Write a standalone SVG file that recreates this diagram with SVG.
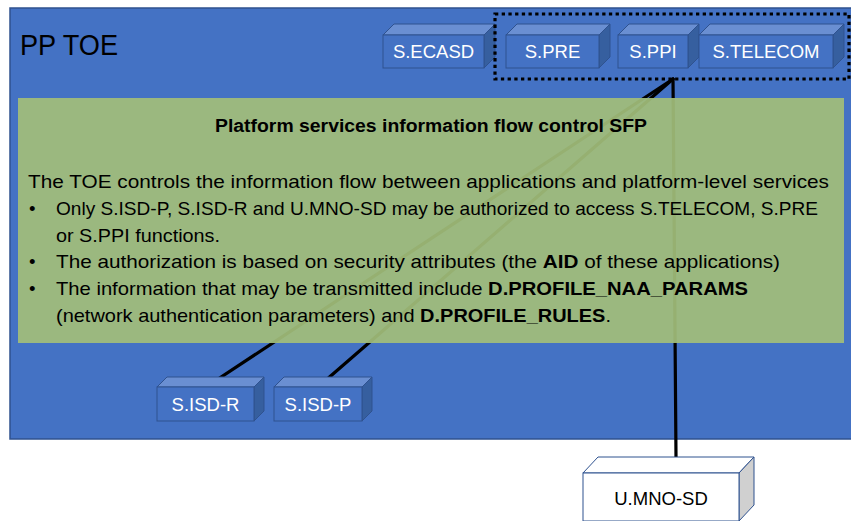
<svg xmlns="http://www.w3.org/2000/svg" width="851" height="521" viewBox="0 0 851 521">
  <style>
    .lbl { font-family: "Liberation Sans", Arial, sans-serif; font-size: 18.5px; }
    .wt { fill: #ffffff; }
    .bk { fill: #000000; }
    .front { fill: #4472c4; stroke: #2f528f; stroke-width: 1; }
    .top { fill: #6a8fd2; stroke: #2f528f; stroke-width: 1; }
    .side { fill: #365f9f; stroke: #2f528f; stroke-width: 1; }
    .wfront { fill: #ffffff; stroke: #2f528f; stroke-width: 1; }
    .wside { fill: #d0d0d0; stroke: #2f528f; stroke-width: 1; }
    .conn { stroke: #000000; stroke-width: 3.2; fill: none; stroke-linecap: round; }
    .body { font-family: "Liberation Sans", Arial, sans-serif; font-size: 18.5px; fill: #000000; }
    b, .b { font-weight: bold; }
  </style>

  <!-- PP TOE container -->
  <g id="toe">
    <rect x="10" y="8" width="845" height="431" fill="#4472c4" stroke="#2f528f" stroke-width="1.5"/>
    <text x="20" y="55" class="lbl bk" style="font-size:29px" textLength="98" lengthAdjust="spacingAndGlyphs">PP TOE</text>
  </g>

  <!-- connectors (behind the policy panel) -->
  <g id="connectors">
    <line class="conn" x1="206" y1="387" x2="673" y2="79"/>
    <line class="conn" x1="318" y1="387" x2="673" y2="79"/>
    <line class="conn" x1="676" y1="457" x2="673" y2="79"/>
  </g>

  <!-- platform services -->
  <g id="s-ecasd">
    <polygon class="top" points="383,35 394,24 495,24 484,35"/>
    <polygon class="side" points="484,35 495,24 495,57 484,68"/>
    <rect class="front" x="383" y="35" width="101" height="33"/>
    <text x="433.5" y="58" class="lbl wt" text-anchor="middle">S.ECASD</text>
  </g>
  <g id="s-pre">
    <polygon class="top" points="506,35 517,24 610,24 599,35"/>
    <polygon class="side" points="599,35 610,24 610,57 599,68"/>
    <rect class="front" x="506" y="35" width="93" height="33"/>
    <text x="552.5" y="58" class="lbl wt" text-anchor="middle">S.PRE</text>
  </g>
  <g id="s-ppi">
    <polygon class="top" points="618,35 629,24 699,24 688,35"/>
    <polygon class="side" points="688,35 699,24 699,57 688,68"/>
    <rect class="front" x="618" y="35" width="70" height="33"/>
    <text x="653" y="58" class="lbl wt" text-anchor="middle">S.PPI</text>
  </g>
  <g id="s-telecom">
    <polygon class="top" points="699,35 710,24 844,24 833,35"/>
    <polygon class="side" points="833,35 844,24 844,57 833,68"/>
    <rect class="front" x="699" y="35" width="134" height="33"/>
    <text x="766" y="58" class="lbl wt" text-anchor="middle">S.TELECOM</text>
  </g>

  <!-- group of services reachable under the policy -->
  <g id="restricted-services">
    <rect x="495" y="14" width="354" height="65" fill="none" stroke="#000000" stroke-width="3.2" stroke-dasharray="3.3 3.4"/>
  </g>

  <!-- policy panel -->
  <g id="sfp">
    <rect x="18" y="98" width="826" height="245" fill="#a1bd7a" fill-opacity="0.93"/>
    <text x="431" y="132" class="body b" text-anchor="middle" style="font-size:17.5px" textLength="432" lengthAdjust="spacingAndGlyphs">Platform services information flow control SFP</text>
    <text x="28" y="188" class="body" textLength="801" lengthAdjust="spacingAndGlyphs">The TOE controls the information flow between applications and platform-level services</text>
    <text x="29" y="215" class="body">•</text>
    <text x="56" y="215" class="body" textLength="762" lengthAdjust="spacingAndGlyphs">Only S.ISD-P, S.ISD-R and U.MNO-SD may be authorized to access S.TELECOM, S.PRE</text>
    <text x="56" y="242" class="body" textLength="164" lengthAdjust="spacingAndGlyphs">or S.PPI functions.</text>
    <text x="29" y="268" class="body">•</text>
    <text x="56" y="268" class="body" textLength="724" lengthAdjust="spacingAndGlyphs">The authorization is based on security attributes (the <tspan class="b">AID</tspan> of these applications)</text>
    <text x="29" y="295" class="body">•</text>
    <text x="56" y="295" class="body" textLength="692" lengthAdjust="spacingAndGlyphs">The information that may be transmitted include <tspan class="b">D.PROFILE_NAA_PARAMS</tspan></text>
    <text x="56" y="322" class="body" textLength="555" lengthAdjust="spacingAndGlyphs">(network authentication parameters) and <tspan class="b">D.PROFILE_RULES</tspan>.</text>
  </g>

  <!-- security domains -->
  <g id="s-isd-r">
    <polygon class="top" points="157,387 167,377 264,377 254,387"/>
    <polygon class="side" points="254,387 264,377 264,411 254,421"/>
    <rect class="front" x="157" y="387" width="97" height="34"/>
    <text x="205.5" y="411" class="lbl wt" text-anchor="middle">S.ISD-R</text>
  </g>
  <g id="s-isd-p">
    <polygon class="top" points="274,387 284,377 372,377 362,387"/>
    <polygon class="side" points="362,387 372,377 372,411 362,421"/>
    <rect class="front" x="274" y="387" width="88" height="34"/>
    <text x="318" y="411" class="lbl wt" text-anchor="middle">S.ISD-P</text>
  </g>

  <!-- MNO security domain outside the TOE -->
  <g id="u-mno-sd">
    <polygon class="wfront" points="583,473 598,457 754,457 739,473"/>
    <polygon class="wside" points="739,473 754,457 754,505 739,521"/>
    <rect class="wfront" x="583" y="473" width="156" height="48"/>
    <text x="661" y="505" class="lbl bk" text-anchor="middle">U.MNO-SD</text>
  </g>
</svg>
